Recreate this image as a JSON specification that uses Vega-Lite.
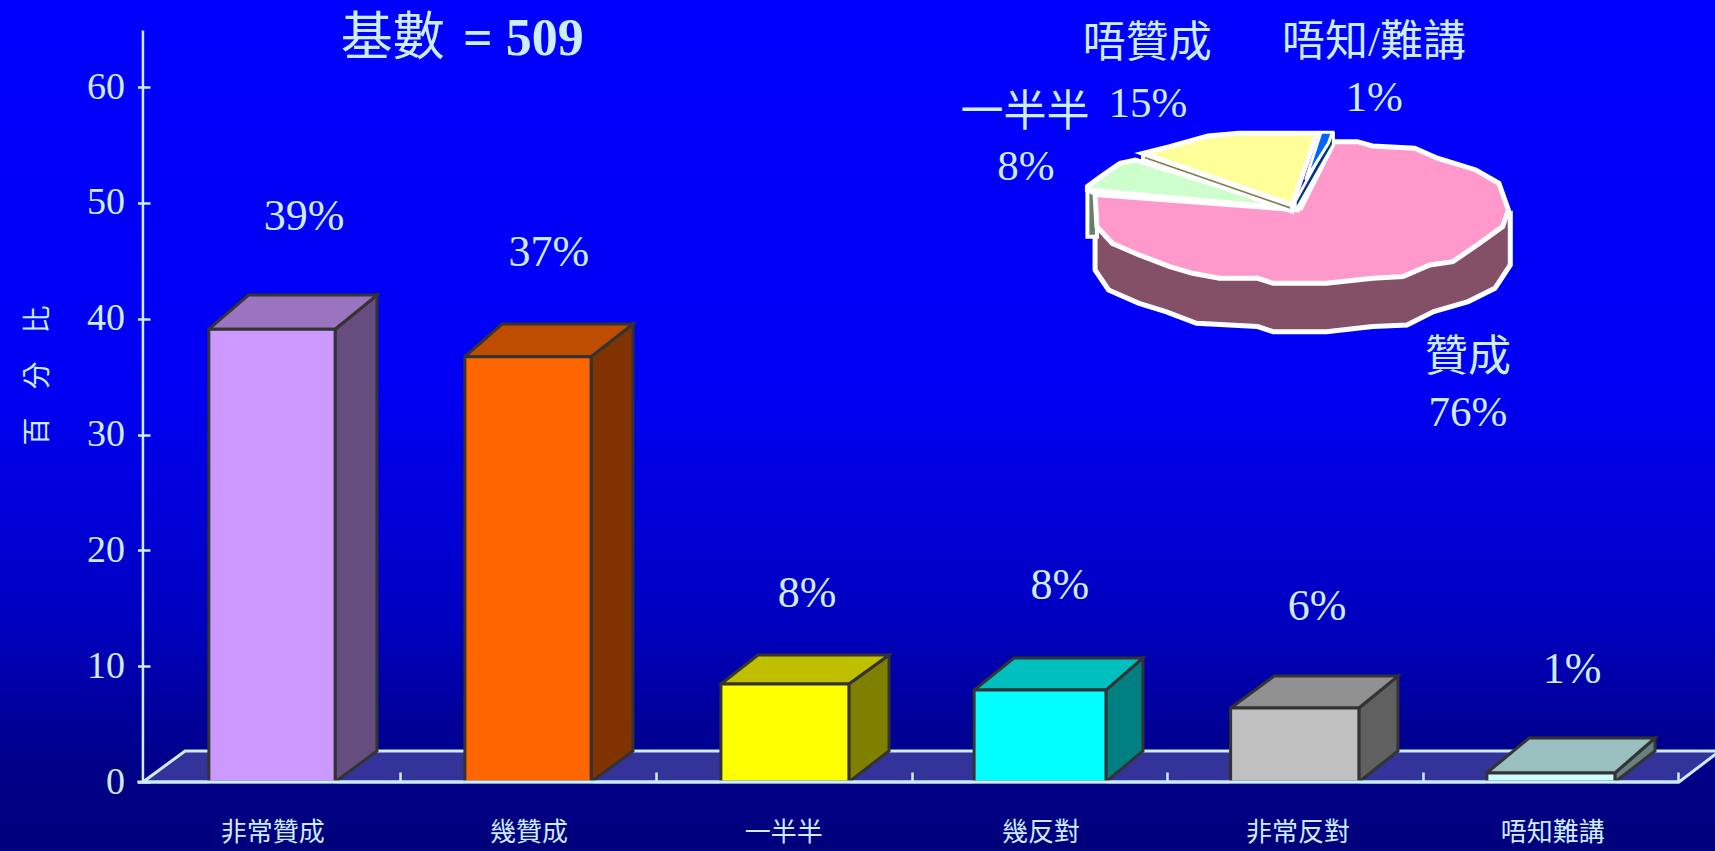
{"$schema":"https://vega.github.io/schema/vega-lite/v6.json","width":1715,"height":851,"autosize":"none","padding":0,"background":"#000080","config":{"view":{"stroke":null},"text":{"font":"Liberation Serif, Noto Sans CJK TC","fill":"#ccecff","baseline":"middle","align":"center"}},"resolve":{"scale":{"x":"independent","y":"independent"}},"layer":[{"encoding":{"x":{"field":"x","type":"quantitative","scale":{"domain":[-0.5675,6.1448],"nice":false,"zero":false},"axis":{"orient":"bottom","offset":-69,"values":[1,2,3,4,5,6],"labels":false,"domain":false,"grid":false,"title":null,"tickSize":-10,"tickWidth":2.5,"tickColor":"#ccecff","zindex":1}},"y":{"field":"y","type":"quantitative","scale":{"domain":[-5.9585,67.53],"nice":false,"zero":false},"axis":{"orient":"left","offset":-150,"values":[0,10,20,30,40,50,60],"domain":false,"grid":false,"tickSize":12.5,"tickWidth":2.5,"tickColor":"#ccecff","labelFont":"Liberation Serif","labelFontSize":38,"labelColor":"#ccecff","labelPadding":13,"labelBaseline":"middle","title":"百　分　比","titleFont":"Noto Sans CJK TC","titleFontSize":28,"titleFontWeight":"normal","titleColor":"#ccecff","titleAngle":270,"titleX":-112,"titleY":375,"titleBaseline":"middle","zindex":1}}},"layer":[{"data":{"values":[{"x":-0.5675,"x2":6.1448,"y":-5.9585,"y2":67.53}]},"mark":{"type":"rect","fill":{"gradient":"linear","x1":0,"y1":0,"x2":0,"y2":1,"stops":[{"offset":0,"color":"#0000ff"},{"offset":0.45,"color":"#0000f5"},{"offset":0.73,"color":"#0000c0"},{"offset":0.9,"color":"#000088"},{"offset":1,"color":"#00007c"}]}},"encoding":{"x2":{"field":"x2"},"y2":{"field":"y2"}}},{"data":{"values":[{"s":1,"x":-0.008,"y":0},{"s":2,"x":6.004,"y":0},{"s":3,"x":6.164,"y":2.68},{"s":4,"x":0.157,"y":2.68},{"s":5,"x":-0.008,"y":0}]},"mark":{"type":"line","fill":"#333399","stroke":"#ccecff","strokeWidth":3},"encoding":{"order":{"field":"s"}}},{"data":{"values":[{"f":"a-side","s":1,"x":0.744,"y":0},{"f":"a-side","s":2,"x":0.908,"y":2.68},{"f":"a-side","s":3,"x":0.908,"y":42.05},{"f":"a-side","s":4,"x":0.744,"y":39.1},{"f":"a-side","s":5,"x":0.744,"y":0},{"f":"a-top","s":1,"x":0.25,"y":39.1},{"f":"a-top","s":2,"x":0.744,"y":39.1},{"f":"a-top","s":3,"x":0.908,"y":42.05},{"f":"a-top","s":4,"x":0.405,"y":42.05},{"f":"a-top","s":5,"x":0.25,"y":39.1},{"f":"b-side","s":1,"x":1.746,"y":0},{"f":"b-side","s":2,"x":1.91,"y":2.68},{"f":"b-side","s":3,"x":1.91,"y":39.55},{"f":"b-side","s":4,"x":1.746,"y":36.73},{"f":"b-side","s":5,"x":1.746,"y":0},{"f":"b-top","s":1,"x":1.252,"y":36.73},{"f":"b-top","s":2,"x":1.746,"y":36.73},{"f":"b-top","s":3,"x":1.91,"y":39.55},{"f":"b-top","s":4,"x":1.397,"y":39.55},{"f":"b-top","s":5,"x":1.252,"y":36.73},{"f":"c-side","s":1,"x":2.755,"y":0},{"f":"c-side","s":2,"x":2.912,"y":2.68},{"f":"c-side","s":3,"x":2.912,"y":10.97},{"f":"c-side","s":4,"x":2.755,"y":8.46},{"f":"c-side","s":5,"x":2.755,"y":0},{"f":"c-top","s":1,"x":2.254,"y":8.46},{"f":"c-top","s":2,"x":2.755,"y":8.46},{"f":"c-top","s":3,"x":2.912,"y":10.97},{"f":"c-top","s":4,"x":2.399,"y":10.97},{"f":"c-top","s":5,"x":2.254,"y":8.46},{"f":"d-side","s":1,"x":3.761,"y":0},{"f":"d-side","s":2,"x":3.906,"y":2.68},{"f":"d-side","s":3,"x":3.906,"y":10.71},{"f":"d-side","s":4,"x":3.761,"y":7.94},{"f":"d-side","s":5,"x":3.761,"y":0},{"f":"d-top","s":1,"x":3.245,"y":7.94},{"f":"d-top","s":2,"x":3.761,"y":7.94},{"f":"d-top","s":3,"x":3.906,"y":10.71},{"f":"d-top","s":4,"x":3.401,"y":10.71},{"f":"d-top","s":5,"x":3.245,"y":7.94},{"f":"e-side","s":1,"x":4.751,"y":0},{"f":"e-side","s":2,"x":4.904,"y":2.68},{"f":"e-side","s":3,"x":4.904,"y":9.15},{"f":"e-side","s":4,"x":4.751,"y":6.39},{"f":"e-side","s":5,"x":4.751,"y":0},{"f":"e-top","s":1,"x":4.249,"y":6.39},{"f":"e-top","s":2,"x":4.751,"y":6.39},{"f":"e-top","s":3,"x":4.904,"y":9.15},{"f":"e-top","s":4,"x":4.419,"y":9.15},{"f":"e-top","s":5,"x":4.249,"y":6.39},{"f":"f-side","s":1,"x":5.753,"y":0},{"f":"f-side","s":2,"x":5.91,"y":2.68},{"f":"f-side","s":3,"x":5.91,"y":3.8},{"f":"f-side","s":4,"x":5.753,"y":0.78},{"f":"f-side","s":5,"x":5.753,"y":0},{"f":"f-top","s":1,"x":5.252,"y":0.78},{"f":"f-top","s":2,"x":5.753,"y":0.78},{"f":"f-top","s":3,"x":5.91,"y":3.8},{"f":"f-top","s":4,"x":5.417,"y":3.8},{"f":"f-top","s":5,"x":5.252,"y":0.78}]},"mark":{"type":"line","stroke":"#333333","strokeWidth":3},"encoding":{"order":{"field":"s"},"detail":{"field":"f"},"fill":{"field":"f","type":"nominal","legend":null,"scale":{"domain":["a-side","a-top","b-side","b-top","c-side","c-top","d-side","d-top","e-side","e-top","f-side","f-top","非常贊成","幾贊成","一半半","幾反對","非常反對","唔知難講"],"range":["#664d80","#9975bf","#803300","#bf4d00","#808000","#bfbf00","#008080","#00bfbf","#606060","#909090","#668080","#99bfbf","#cc99ff","#ff6600","#ffff00","#00ffff","#c0c0c0","#ccffff"]}}}},{"data":{"values":[{"f":"非常贊成","x":0.25,"x2":0.744,"y":39.1,"y2":0},{"f":"幾贊成","x":1.252,"x2":1.746,"y":36.73,"y2":0},{"f":"一半半","x":2.254,"x2":2.755,"y":8.46,"y2":0},{"f":"幾反對","x":3.245,"x2":3.761,"y":7.94,"y2":0},{"f":"非常反對","x":4.249,"x2":4.751,"y":6.39,"y2":0},{"f":"唔知難講","x":5.252,"x2":5.753,"y":0.78,"y2":0}]},"mark":{"type":"rect","stroke":"#333333","strokeWidth":3},"encoding":{"x2":{"field":"x2"},"y2":{"field":"y2"},"fill":{"field":"f","type":"nominal","legend":null,"scale":{"domain":["a-side","a-top","b-side","b-top","c-side","c-top","d-side","d-top","e-side","e-top","f-side","f-top","非常贊成","幾贊成","一半半","幾反對","非常反對","唔知難講"],"range":["#664d80","#9975bf","#803300","#bf4d00","#808000","#bfbf00","#008080","#00bfbf","#606060","#909090","#668080","#99bfbf","#cc99ff","#ff6600","#ffff00","#00ffff","#c0c0c0","#ccffff"]}}}},{"data":{"values":[{"x":-0.03,"x2":6.004,"y":0}]},"mark":{"type":"rule","stroke":"#ccecff","strokeWidth":3},"encoding":{"x2":{"field":"x2"}}},{"data":{"values":[{"x":-0.008,"y":0,"y2":64.9}]},"mark":{"type":"rule","stroke":"#ccecff","strokeWidth":2.5},"encoding":{"y2":{"field":"y2"}}},{"data":{"values":[{"t":"39%","x":0.623,"y":48.8},{"t":"37%","x":1.581,"y":45.7},{"t":"8%","x":2.591,"y":16.2},{"t":"8%","x":3.581,"y":16.9},{"t":"6%","x":4.587,"y":15.1},{"t":"1%","x":5.585,"y":9.7}]},"mark":{"type":"text","fontSize":44},"encoding":{"text":{"field":"t"}}},{"data":{"values":[{"t":"非常贊成","x":0.5,"y":-4.4},{"t":"幾贊成","x":1.503,"y":-4.4},{"t":"一半半","x":2.5,"y":-4.4},{"t":"幾反對","x":3.507,"y":-4.4},{"t":"非常反對","x":4.513,"y":-4.4},{"t":"唔知難講","x":5.51,"y":-4.4}]},"mark":{"type":"text","fontSize":26},"encoding":{"text":{"field":"t"}}},{"data":{"values":[{"t":"基數","x":0.97,"y":64.2}]},"mark":{"type":"text","fontSize":52},"encoding":{"text":{"field":"t"}}},{"data":{"values":[{"t":"= 509","x":1.481,"y":64.2}]},"mark":{"type":"text","fontSize":52,"fontWeight":"bold"},"encoding":{"text":{"field":"t"}}}]},{"encoding":{"x":{"field":"x","type":"quantitative","axis":null,"scale":{"domain":[-628,198.9],"nice":false,"zero":false}},"y":{"field":"y","type":"quantitative","axis":null,"scale":{"domain":[-899.6,299],"nice":false,"zero":false}}},"layer":[{"data":{"values":[{"s":1,"x":-100,"y":-24.9},{"s":2,"x":-100,"y":-81.2},{"s":3,"x":-93.5,"y":-109.4},{"s":4,"x":-78.8,"y":-128.2},{"s":5,"x":-65.9,"y":-139.9},{"s":6,"x":-51.1,"y":-156.3},{"s":7,"x":-21.6,"y":-161},{"s":8,"x":-14.2,"y":-168.1},{"s":9,"x":11.6,"y":-168.1},{"s":10,"x":33.8,"y":-161},{"s":11,"x":50.4,"y":-158.7},{"s":12,"x":63.3,"y":-139.9},{"s":13,"x":79.9,"y":-125.8},{"s":14,"x":92.8,"y":-107},{"s":15,"x":100.2,"y":-74.2},{"s":16,"x":100.2,"y":-1.4},{"s":17,"x":-100,"y":-24.9}]},"mark":{"type":"line","fill":"#845068","stroke":"#ffffff","strokeWidth":5},"encoding":{"order":{"field":"s"}}},{"data":{"values":[{"s":1,"x":-103.7,"y":31.5},{"s":2,"x":-103.7,"y":-34.3},{"s":3,"x":-99.1,"y":-34.3},{"s":4,"x":-99.1,"y":24.4},{"s":5,"x":-103.7,"y":31.5}]},"mark":{"type":"line","fill":"#668066","stroke":"#ffffff","strokeWidth":4},"encoding":{"order":{"field":"s"}}},{"data":{"values":[{"s":1,"x":-1.3,"y":3.3},{"s":2,"x":15.3,"y":99.5},{"s":3,"x":26.4,"y":99.5},{"s":4,"x":33.8,"y":93.4},{"s":5,"x":54.1,"y":90.1},{"s":6,"x":65.1,"y":76.1},{"s":7,"x":83.6,"y":59.6},{"s":8,"x":94.7,"y":40.8},{"s":9,"x":99.3,"y":3.3},{"s":10,"x":96.5,"y":-20.2},{"s":11,"x":85.4,"y":-43.7},{"s":12,"x":72.5,"y":-69.5},{"s":13,"x":61.4,"y":-74.2},{"s":14,"x":48.5,"y":-90.6},{"s":15,"x":33.8,"y":-93},{"s":16,"x":11.6,"y":-100},{"s":17,"x":-14.2,"y":-100},{"s":18,"x":-21.6,"y":-93},{"s":19,"x":-40,"y":-93},{"s":20,"x":-53,"y":-85.9},{"s":21,"x":-64,"y":-76.5},{"s":22,"x":-78.8,"y":-60.1},{"s":23,"x":-91.7,"y":-43.7},{"s":24,"x":-99.1,"y":-20.2},{"s":25,"x":-100,"y":25},{"s":26,"x":-1.3,"y":3.3}]},"mark":{"type":"line","fill":"#ff99cc","stroke":"#ffffff","strokeWidth":5},"encoding":{"order":{"field":"s"}}},{"data":{"values":[{"s":1,"x":-5.9,"y":5.6},{"s":2,"x":-80.6,"y":73.7},{"s":3,"x":-88,"y":69},{"s":4,"x":-97.2,"y":50.2},{"s":5,"x":-103.7,"y":36.2},{"s":6,"x":-103.7,"y":31.5},{"s":7,"x":-5.9,"y":5.6}]},"mark":{"type":"line","fill":"#ccffcc","stroke":"#ffffff","strokeWidth":5},"encoding":{"order":{"field":"s"}}},{"data":{"values":[{"s":1,"x":-76.9,"y":83.1},{"s":2,"x":-5,"y":10.3},{"s":3,"x":-5,"y":0.9},{"s":4,"x":-76.9,"y":73.7},{"s":5,"x":-76.9,"y":83.1}]},"mark":{"type":"line","fill":"#808050","stroke":"#ffffff","strokeWidth":4},"encoding":{"order":{"field":"s"}}},{"data":{"values":[{"s":1,"x":-5,"y":10.3},{"s":2,"x":7,"y":111.3},{"s":3,"x":-30.8,"y":111.3},{"s":4,"x":-45.6,"y":107.5},{"s":5,"x":-64,"y":92.5},{"s":6,"x":-76.9,"y":83.1},{"s":7,"x":-5,"y":10.3}]},"mark":{"type":"line","fill":"#ffff99","stroke":"#ffffff","strokeWidth":5},"encoding":{"order":{"field":"s"}}},{"data":{"values":[{"s":1,"x":-3.5,"y":1},{"s":2,"x":14.9,"y":95},{"s":3,"x":14.9,"y":113.6},{"s":4,"x":-3.5,"y":15},{"s":5,"x":-3.5,"y":1}]},"mark":{"type":"line","fill":"#003380","stroke":"#ffffff","strokeWidth":3},"encoding":{"order":{"field":"s"}}},{"data":{"values":[{"s":1,"x":1.5,"y":45.6},{"s":2,"x":8.9,"y":112.7},{"s":3,"x":14.4,"y":112.7},{"s":4,"x":12.5,"y":97.2},{"s":5,"x":1.5,"y":45.6}]},"mark":{"type":"line","fill":"#0066ff","stroke":"#ffffff","strokeWidth":3},"encoding":{"order":{"field":"s"}}},{"data":{"values":[{"t":"唔贊成","x":-74.9,"y":237},{"t":"15%","x":-74.5,"y":152.5},{"t":"唔知/難講","x":34.5,"y":238.5},{"t":"1%","x":34.5,"y":161},{"t":"一半半","x":-133.8,"y":139.9},{"t":"8%","x":-133.3,"y":63.8},{"t":"贊成","x":79.8,"y":-205},{"t":"76%","x":79.8,"y":-282.7}]},"mark":{"type":"text","fontSize":43},"encoding":{"text":{"field":"t"}}}]}]}
